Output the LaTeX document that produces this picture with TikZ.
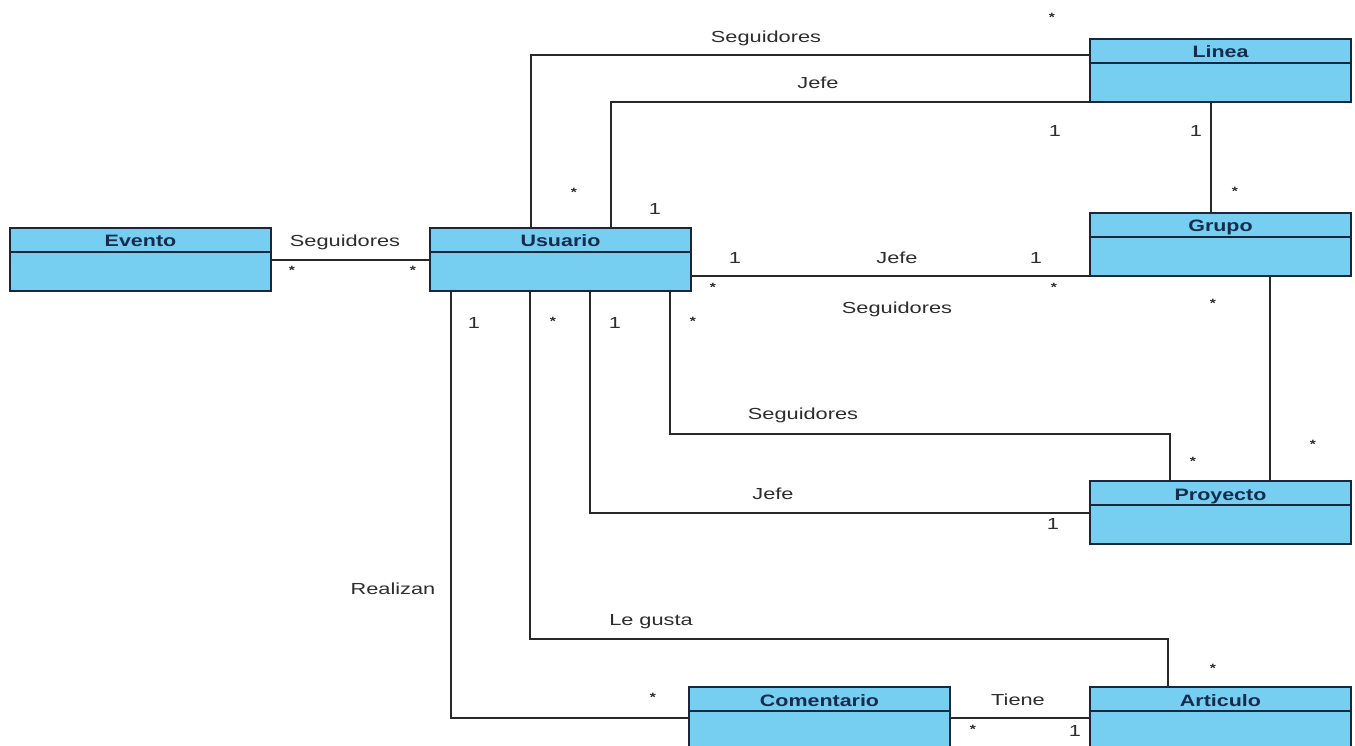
\documentclass[tikz,border=0pt]{standalone}
\usepackage{fontspec}
\newfontfamily\diagfont[FakeStretch=1.3]{Liberation Sans}
\newfontfamily\rolefont[FakeStretch=1.36]{Liberation Sans}
\usetikzlibrary{calc}

\definecolor{classfill}{RGB}{118,206,240}
\definecolor{classedge}{RGB}{26,38,60}
\definecolor{classtext}{RGB}{22,44,78}
\definecolor{labeltext}{RGB}{45,45,45}
\definecolor{wire}{RGB}{40,40,40}

\tikzset{
  classbox/.style={draw=classedge, fill=classfill, line width=1.7pt,
    minimum width=261pt, minimum height=63pt, anchor=north west,
    inner sep=0pt, outer sep=0pt},
  classtitle/.style={font=\diagfont\bfseries\fontsize{16.5}{18}\selectfont,
    text=classtext, inner sep=0pt, anchor=base},
  assoc/.style={draw=wire, line width=1.5pt},
  rolename/.style={font=\rolefont\fontsize{16}{18}\selectfont,
    text=labeltext, inner sep=0pt, anchor=base, yshift=-6pt},
  one/.style={rolename},
  many/.style={font=\diagfont\bfseries\fontsize{12}{14}\selectfont,
    text=labeltext, inner sep=0pt, anchor=base, yshift=-7pt},
}

% a UML class: name, left, top, title
\newcommand\umlclass[4]{%
  \node[classbox] (#1) at (#2,#3) {};
  \draw[draw=classedge, line width=1.7pt]
    ([yshift=-24pt]#1.north west) -- ([yshift=-24pt]#1.north east);
  \node[classtitle] (#1-title) at ([yshift=-19pt]#1.north) {#4};
}

\begin{document}
\begin{tikzpicture}[x=1pt, y=-1pt]
  \useasboundingbox (0,0) rectangle (1355,746);
  \clip (0,0) rectangle (1355,746);
  \fill[white] (0,0) rectangle (1355,746);

  % classes
  \umlclass{evento}{10}{228}{Evento}
  \umlclass{usuario}{430}{228}{Usuario}
  \umlclass{linea}{1090}{39}{Linea}
  \umlclass{grupo}{1090}{213}{Grupo}
  \umlclass{proyecto}{1090}{481}{Proyecto}
  \umlclass{comentario}{689}{687}{Comentario}
  \umlclass{articulo}{1090}{687}{Articulo}

  % bend points of the associations
  \coordinate (kSegL) at (531,55);
  \coordinate (kJefL) at (611,102);
  \coordinate (kLG) at (1211,0);
  \coordinate (kGP) at (1270,0);
  \coordinate (kReal) at (451,718);
  \coordinate (kGus1) at (530,639);
  \coordinate (kGus2) at (1168,639);
  \coordinate (kJefP) at (590,513);
  \coordinate (kSegP1) at (670,434);
  \coordinate (kSegP2) at (1170,434);
  \coordinate (kTiene) at (0,718);
  \coordinate (kEv) at (0,260);

  % associations
  \draw[assoc] (evento.east |- kEv) -- (usuario.west |- kEv);
  \draw[assoc] (usuario.north -| kSegL) |- (linea.west |- kSegL);
  \draw[assoc] (usuario.north -| kJefL) |- (linea.south west);
  \draw[assoc] (linea.south -| kLG) -- (grupo.north -| kLG);
  \draw[assoc] (usuario.east |- grupo.south) -- (grupo.south west);
  \draw[assoc] (grupo.south -| kGP) -- (proyecto.north -| kGP);
  \draw[assoc] (usuario.south -| kReal) |- (comentario.west |- kReal);
  \draw[assoc] (usuario.south -| kGus1) |- (kGus2) -- (articulo.north -| kGus2);
  \draw[assoc] (usuario.south -| kJefP) |- (proyecto.west |- kJefP);
  \draw[assoc] (usuario.south -| kSegP1) |- (kSegP2) -- (proyecto.north -| kSegP2);
  \draw[assoc] (comentario.east |- kTiene) -- (articulo.west |- kTiene);

  % association names
  \node[rolename] (nEvSeg) at (345,241) {Seguidores};
  \node[rolename] (nLiSeg) at (766,37) {Seguidores};
  \node[rolename] (nLiJef) at (818,83) {Jefe};
  \node[rolename] (nGrJef) at (897,257) {Jefe};
  \node[rolename] (nGrSeg) at (897,307) {Seguidores};
  \node[rolename] (nPrSeg) at (803,413) {Seguidores};
  \node[rolename] (nPrJef) at (773,493) {Jefe};
  \node[rolename] (nReal) at (393,588) {Realizan};
  \node[rolename] (nGusta) at (651,619) {Le gusta};
  \node[rolename] (nTiene) at (1018,699) {Tiene};

  % multiplicities: one
  \node[one] (m1) at (655,209) {1};
  \node[one] (m2) at (1055,131) {1};
  \node[one] (m3) at (1196,131) {1};
  \node[one] (m4) at (735,257) {1};
  \node[one] (m5) at (1036,257) {1};
  \node[one] (m6) at (474,322) {1};
  \node[one] (m7) at (615,322) {1};
  \node[one] (m8) at (1053,523) {1};
  \node[one] (m9) at (1075,730) {1};

  % multiplicities: many
  \node[many] (s1) at (292,268) {*};
  \node[many] (s2) at (413,268) {*};
  \node[many] (s3) at (574,190) {*};
  \node[many] (s4) at (1052,15) {*};
  \node[many] (s5) at (1235,189) {*};
  \node[many] (s6) at (713,284) {*};
  \node[many] (s7) at (1054,284) {*};
  \node[many] (s8) at (553,318) {*};
  \node[many] (s9) at (693,318) {*};
  \node[many] (s10) at (1213,300) {*};
  \node[many] (s11) at (1313,441) {*};
  \node[many] (s12) at (1193,458) {*};
  \node[many] (s13) at (653,694) {*};
  \node[many] (s14) at (1213,665) {*};
  \node[many] (s15) at (973,726) {*};
\end{tikzpicture}
\end{document}
